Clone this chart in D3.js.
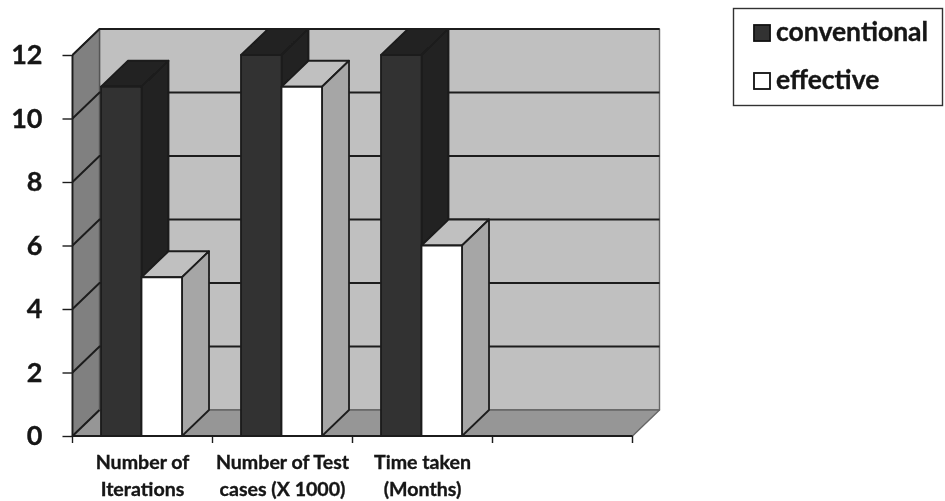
<!DOCTYPE html>
<html><head><meta charset="utf-8">
<script src="https://cdn.jsdelivr.net/npm/d3@7/dist/d3.min.js"></script>
<style>html,body{margin:0;padding:0;background:#fff;overflow:hidden}svg{display:block}text{font-family:Lato,sans-serif;font-weight:700;fill:#141414;stroke:#141414;stroke-width:0.35px}</style>
</head><body><svg id="c" width="945" height="501"></svg>
<script>
const categories = [["Number of","Iterations"],["Number of Test","cases (X 1000)"],["Time taken","(Months)"],["",""]];
const conventional = [11,12,12];
const effective = [5,11,6];
const seriesNames = ["conventional","effective"];
const yTicks = [0,2,4,6,8,10,12];

const svg = d3.select("#c");
const defs = svg.append("defs");
defs.append("filter").attr("id","soft").append("feGaussianBlur").attr("stdDeviation",0.55);
const root = svg.append("g").attr("filter","url(#soft)");

const x = d3.scaleBand().domain(d3.range(categories.length)).range([72.5,632.5]);
const y = d3.scaleLinear().domain([0,12]).range([436,55]);
const dx = 27, dy = -26;
const bw = 40.5, pad = 28.5;
const line = "#1c1c1c";
const poly = (pts,fill,sw=1.8,stroke=line)=>root.append("polygon")
  .attr("points",pts.map(p=>p.join(",")).join(" ")).attr("fill",fill).attr("stroke",stroke).attr("stroke-width",sw).attr("stroke-linejoin","round");

const x0=x.range()[0], x1=x.range()[1], yb=y(0), yt=y(12);
// back wall, side wall, floor
poly([[x0+dx,yt+dy],[x1+dx,yt+dy],[x1+dx,yb+dy],[x0+dx,yb+dy]],"#c0c0c0",1.4,"#666");
poly([[x0,yt],[x0+dx,yt+dy],[x0+dx,yb+dy],[x0,yb]],"#808080",1.4,"#555");
poly([[x0,yb],[x0+dx,yb+dy],[x1+dx,yb+dy],[x1,yb]],"#969696",1.4,"#666");
// gridlines
const gridPath = d3.line();
root.append("g").selectAll("path").data(yTicks.slice(1)).join("path")
  .attr("d",v=>gridPath([[x0,y(v)],[x0+dx,y(v)+dy],[x1+dx,y(v)+dy]]))
  .attr("fill","none").attr("stroke",line).attr("stroke-width",2);
root.append("path").attr("d",gridPath([[x0,yb],[x0+dx,yb+dy]])).attr("stroke",line).attr("stroke-width",2);

// axes
const yAxis = root.append("g").attr("transform",`translate(${x0},0)`)
  .call(d3.axisLeft(y).tickValues(yTicks).tickFormat(d3.format("d")).tickSize(10).tickPadding(20));
yAxis.select(".domain").attr("stroke",line).attr("stroke-width",1.8).attr("d",`M0,${yt}V${yb}`);
yAxis.selectAll("line").attr("stroke",line).attr("stroke-width",1.4);
yAxis.selectAll("text").attr("font-size",27).style("font-family","Lato,sans-serif").style("font-weight",700);

root.append("g").selectAll("line").data(d3.range(categories.length+1)).join("line")
  .attr("x1",i=>x0+x.step()*i).attr("x2",i=>x0+x.step()*i).attr("y1",yb).attr("y2",yb+7)
  .attr("stroke",line).attr("stroke-width",1.4);
root.append("line").attr("x1",x0).attr("x2",x1).attr("y1",yb).attr("y2",yb).attr("stroke",line).attr("stroke-width",2);

// bars
function bar(xl,v,front,top,side){
  const yv=y(v);
  poly([[xl,yv],[xl+dx,yv+dy],[xl+bw+dx,yv+dy],[xl+bw,yv]],top);
  poly([[xl+bw,yv],[xl+bw+dx,yv+dy],[xl+bw+dx,yb+dy],[xl+bw,yb]],side);
  poly([[xl,yv],[xl+bw,yv],[xl+bw,yb],[xl,yb]],front);
}
conventional.forEach((v,i)=>{
  const b=x(i)+pad;
  bar(b,v,"#333333","#222222","#222222");
  bar(b+bw,effective[i],"#ffffff","#c0c0c0","#a6a6a6");
});

// category labels
const lab=root.append("g").selectAll("text").data(categories).join("text")
  .attr("text-anchor","middle").attr("font-size",19.6);
lab.each(function(d,i){
  const c=x(i)+x.bandwidth()/2;
  d3.select(this).selectAll("tspan").data(d).join("tspan").attr("x",c).attr("y",(t,j)=>469+j*26.5).text(t=>t);
});

// legend
root.append("rect").attr("x",733.5).attr("y",8.5).attr("width",209).attr("height",97)
  .attr("fill","#fff").attr("stroke","#333").attr("stroke-width",1.4);
const ly=d3.scalePoint().domain(seriesNames).range([33,81]);
const lfill=d3.scaleOrdinal().domain(seriesNames).range(["#333333","#ffffff"]);
const lg=root.append("g").selectAll("g").data(seriesNames).join("g").attr("transform",d=>`translate(0,${ly(d)})`);
lg.append("rect").attr("x",754).attr("y",-8).attr("width",16).attr("height",16).attr("fill",d=>lfill(d)).attr("stroke","#111").attr("stroke-width",1.8);
lg.append("text").attr("x",776).attr("y",8).attr("font-size",26.5).text(d=>d);
</script></body></html>
